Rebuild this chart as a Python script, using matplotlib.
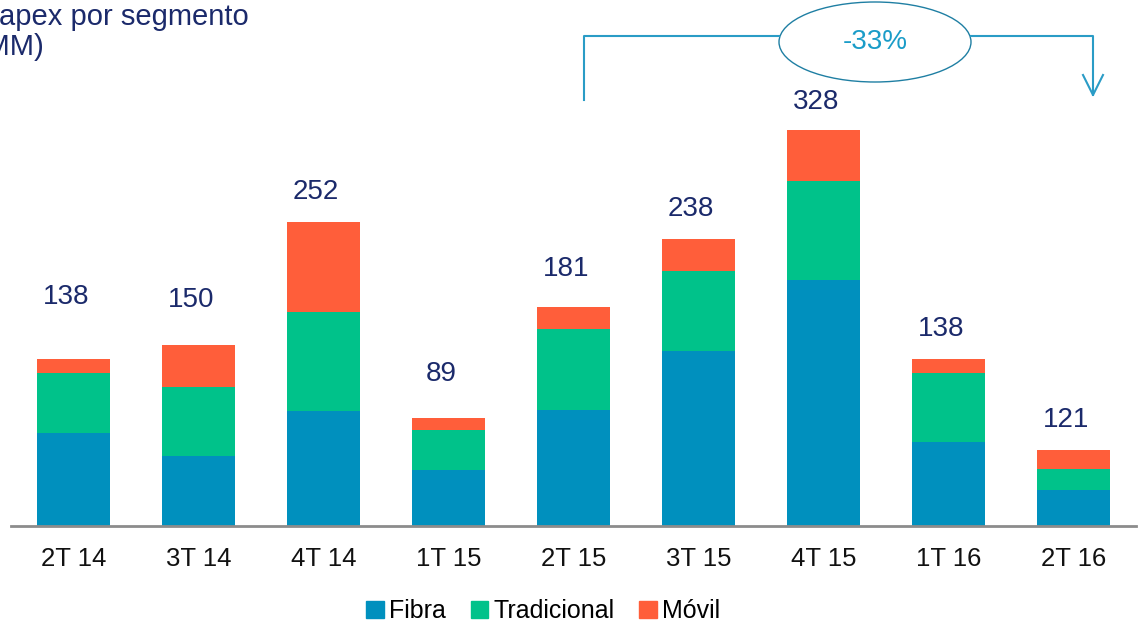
import matplotlib.pyplot as plt
from matplotlib.patches import Ellipse, Patch
from matplotlib.lines import Line2D

plt.rcParams['font.family'] = ['Liberation Sans', 'DejaVu Sans']

quarters = ["2T 14", "3T 14", "4T 14", "1T 15", "2T 15", "3T 15", "4T 15", "1T 16", "2T 16"]
fibra = [77, 58, 95, 46, 96, 145, 204, 69, 30]
tradicional = [50, 57, 82, 33, 67, 66, 82, 58, 17]
movil = [11, 35, 75, 10, 18, 27, 42, 11, 16]
total_labels = ["138", "150", "252", "89", "181", "238", "328", "138", "121"]
label_pad = [54, 39, 27, 39, 34, 27, 25, 27, 27]  # gap above bar, data units

c_fibra = "#0090BE"
c_trad = "#00C28A"
c_movil = "#FF5E3A"
navy = "#1B2A6B"

W, H = 1138, 625
fig = plt.figure(figsize=(W / 100, H / 100), dpi=100)
ax = fig.add_axes([11 / W, (H - 525.7) / H, 1125 / W, 525.7 / H])

x = range(len(quarters))
bw = 0.584
ax.bar(x, fibra, bw, color=c_fibra)
ax.bar(x, tradicional, bw, bottom=fibra, color=c_trad)
bot3 = [a + b for a, b in zip(fibra, tradicional)]
ax.bar(x, movil, bw, bottom=bot3, color=c_movil)

for i, (b, m) in enumerate(zip(bot3, movil)):
    ax.text(i - 0.06, b + m + label_pad[i] - 2, total_labels[i], ha='center', va='center',
            fontsize=20, color=navy)

ax.set_xlim(-0.5, 8.5)
ax.set_ylim(0, 525.7 / 1.206)
for s in ['top', 'right', 'left']:
    ax.spines[s].set_visible(False)
ax.spines['bottom'].set_color('#8c8c8c')
ax.spines['bottom'].set_linewidth(2)
ax.set_yticks([])
ax.set_xticks(list(x))
ax.set_xticklabels(quarters, fontsize=18.5, color='#111111')
ax.tick_params(axis='x', length=0, pad=15)

# title (partly cut off at left edge, as in the source slide)
fig.text(-22 / W, 1 - 17 / H, "Capex por segmento", ha='left', va='center',
         fontsize=21, color=navy)
fig.text(44 / W, 1 - 47 / H, "(US$ MM)", ha='right', va='center',
         fontsize=21, color=navy)

# bracket with -33%
lc = "#2A9CC6"
def fx(p):
    return p / W
def fy(p):
    return 1 - p / H
fig.add_artist(Line2D([fx(584), fx(584), fx(779)], [fy(100), fy(36), fy(36)],
                      color=lc, lw=1.5, transform=fig.transFigure))
fig.add_artist(Line2D([fx(971), fx(1093), fx(1093)], [fy(36), fy(36), fy(95)],
                      color=lc, lw=1.5, transform=fig.transFigure))
fig.add_artist(Line2D([fx(1083), fx(1093), fx(1103)], [fy(75), fy(95), fy(75)],
                      color=lc, lw=1.5, transform=fig.transFigure))
fig.add_artist(Ellipse((fx(875), fy(42)), 192 / W, 80 / H, facecolor='white',
                       edgecolor='#1F7FA3', lw=1, transform=fig.transFigure))
fig.text(fx(875), fy(42), "-33%", ha='center', va='center', fontsize=20, color="#1A9CC8")

handles = [Patch(color=c_fibra, label="Fibra"), Patch(color=c_trad, label="Tradicional"),
           Patch(color=c_movil, label="Móvil")]
fig.legend(handles=handles, loc='center', bbox_to_anchor=(543 / W, 1 - 611 / H), ncol=3,
           frameon=False, fontsize=18, handlelength=0.7, handleheight=0.7,
           handletextpad=0.2, columnspacing=1.0)

fig.savefig("out.png", dpi=100)
